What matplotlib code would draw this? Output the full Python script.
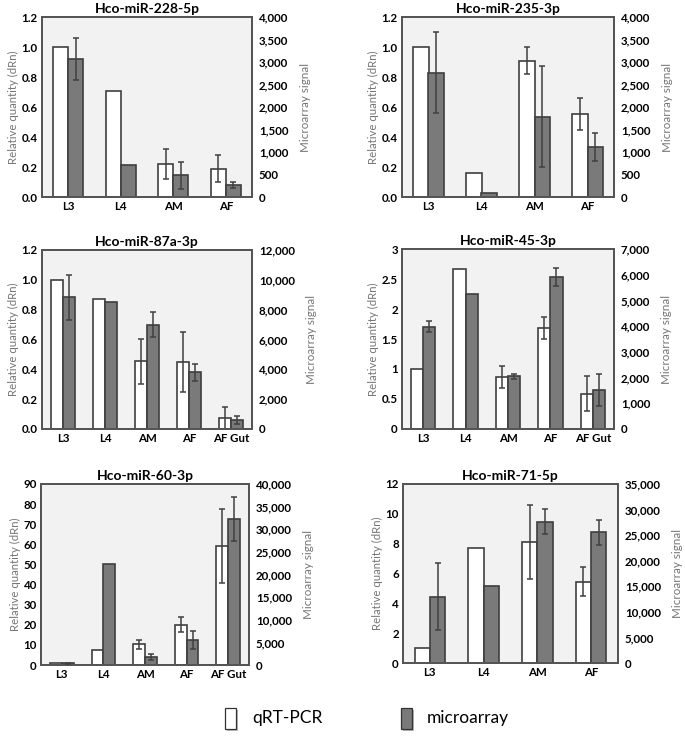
import numpy as np
import matplotlib
matplotlib.use("Agg")
import matplotlib.pyplot as plt
from matplotlib.ticker import FuncFormatter, MultipleLocator
from matplotlib.patches import Rectangle

plt.rcParams['font.family'] = ['Lato', 'DejaVu Sans']

nan = np.nan
cats4 = ["L3", "L4", "AM", "AF"]
cats5 = ["L3", "L4", "AM", "AF", "AF Gut"]

# Hco-miR-228-5p
q228 = [1.0, 0.71, 0.22, 0.19]
q228_err = [nan, nan, 0.097, 0.093]
m228 = [3065, 708, 480, 266]
m228_err = [460, nan, 295, 66]

# Hco-miR-235-3p
q235 = [1.0, 0.162, 0.908, 0.553]
q235_err = [nan, nan, 0.09, 0.105]
m235 = [2760, 96, 1786, 1114]
m235_err = [900, nan, 1120, 318]

# Hco-miR-87a-3p
q87 = [1.0, 0.871, 0.454, 0.448, 0.072]
q87_err = [nan, nan, 0.15, 0.20, 0.078]
m87 = [8840, 8530, 6985, 3806, 627]
m87_err = [1500, nan, 830, 580, 270]

# Hco-miR-45-3p
q45 = [1.0, 2.672, 0.867, 1.683, 0.589]
q45_err = [nan, nan, 0.18, 0.18, 0.29]
m45 = [3980, 5263, 2048, 5911, 1517]
m45_err = [220, nan, 100, 360, 620]

# Hco-miR-60-3p
q60 = [1.0, 7.33, 10.2, 20.0, 59.3]
q60_err = [nan, nan, 2.2, 3.7, 18.3]
m60 = [400, 22222, 1778, 5481, 32222]
m60_err = [150, nan, 740, 2000, 4900]

# Hco-miR-71-5p
q71 = [1.0, 7.68, 8.13, 5.46]
q71_err = [nan, nan, 2.47, 0.97]
m71 = [13000, 15150, 27620, 25530]
m71_err = [6500, nan, 2420, 2360]

W, H = 685, 736
fig = plt.figure(figsize=(W / 100, H / 100), dpi=100)

def frac(l, t, r, b):
    return [l / W, 1 - b / H, (r - l) / W, (b - t) / H]

panels = [
    ("Hco-miR-228-5p", cats4, q228, q228_err, m228, m228_err, (0, 1.2, 0.2), (0, 4000, 500), "%.1f", frac(42, 17, 252, 197)),
    ("Hco-miR-235-3p", cats4, q235, q235_err, m235, m235_err, (0, 1.2, 0.2), (0, 4000, 500), "%.1f", frac(402, 17, 614, 197)),
    ("Hco-miR-87a-3p", cats5, q87, q87_err, m87, m87_err, (0, 1.2, 0.2), (0, 12000, 2000), "%.1f", frac(42, 250, 252, 429)),
    ("Hco-miR-45-3p", cats5, q45, q45_err, m45, m45_err, (0, 3, 0.5), (0, 7000, 1000), "%g", frac(402, 249, 614, 429)),
    ("Hco-miR-60-3p", cats5, q60, q60_err, m60, m60_err, (0, 90, 10), (0, 40000, 5000), "%g", frac(41, 484, 249, 665)),
    ("Hco-miR-71-5p", cats4, q71, q71_err, m71, m71_err, (0, 12, 2), (0, 35000, 5000), "%g", frac(403, 484, 618, 663)),
]

bw = 0.286
edge = "#3f3f3f"
dark = "#7a7a7a"
spine_c = "#555555"
err_c = "#404040"
lab_c = "#767676"

for title, cats, q, qe, m, me, lt, rt, fmt, pos in panels:
    ax = fig.add_axes(pos)
    ax.set_facecolor("#f2f2f2")
    x = np.arange(len(cats))
    ax.bar(x - bw / 2, q, bw, color="white", edgecolor=edge, linewidth=1.2, zorder=2)
    qe_a = np.array(qe, dtype=float)
    ok = ~np.isnan(qe_a)
    ax.errorbar((x - bw / 2)[ok], np.array(q)[ok], yerr=qe_a[ok], fmt="none",
                ecolor=err_c, elinewidth=1.1, capsize=2.2, capthick=1.1, zorder=3)
    ax.set_xlim(-0.5, len(cats) - 0.5)
    ax.set_ylim(lt[0], lt[1])
    ax.yaxis.set_major_locator(MultipleLocator(lt[2]))
    ax.yaxis.set_major_formatter(FuncFormatter(lambda v, p, f=fmt: f % v))
    ax.set_xticks(x)
    ax.set_xticklabels(cats)
    ax.tick_params(length=0, labelsize=8.3, pad=3)
    for lab in ax.get_xticklabels() + ax.get_yticklabels():
        lab.set_fontweight("bold")
    ax.set_ylabel("Relative quantity (dRn)", color=lab_c, fontsize=8.2, labelpad=2)
    ax.set_title(title, fontweight="bold", fontsize=10, pad=3)

    ax2 = ax.twinx()
    ax2.bar(x + bw / 2, m, bw, color=dark, edgecolor=edge, linewidth=1.2, zorder=2)
    me_a = np.array(me, dtype=float)
    ok2 = ~np.isnan(me_a)
    ax2.errorbar((x + bw / 2)[ok2], np.array(m)[ok2], yerr=me_a[ok2], fmt="none",
                 ecolor=err_c, elinewidth=1.1, capsize=2.2, capthick=1.1, zorder=3)
    ax2.set_ylim(rt[0], rt[1])
    ax2.yaxis.set_major_locator(MultipleLocator(rt[2]))
    ax2.yaxis.set_major_formatter(FuncFormatter(lambda v, p: f"{int(round(v)):,}"))
    ax2.tick_params(length=0, labelsize=8.3, pad=5)
    for lab in ax2.get_yticklabels():
        lab.set_fontweight("bold")
    ax2.set_ylabel("Microarray signal", color=lab_c, fontsize=8.4, labelpad=8)
    for a in (ax, ax2):
        for s in a.spines.values():
            s.set_color(spine_c)
            s.set_linewidth(1.4)

# legend
for (lx, col, label, tx) in [(225, "white", "qRT-PCR", 252), (401, dark, "microarray", 427)]:
    shadow = Rectangle(((lx + 1.5) / W, 1 - 730.5 / H), 11 / W, 21 / H, transform=fig.transFigure,
                       facecolor="#bbbbbb", edgecolor="none")
    fig.add_artist(shadow)
    r = Rectangle((lx / W, 1 - 729 / H), 11 / W, 21 / H, transform=fig.transFigure,
                  facecolor=col, edgecolor="#333333", linewidth=0.9)
    fig.add_artist(r)
    fig.text(tx / W, 1 - 718 / H, label, fontsize=12.5, va="center", ha="left")

fig.savefig("out.png", dpi=100)
